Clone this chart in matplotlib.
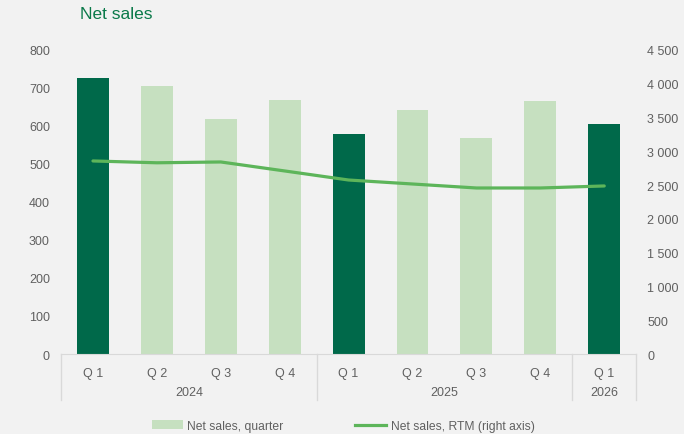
import numpy as np
import matplotlib.pyplot as plt
from matplotlib.patches import Patch
from matplotlib.lines import Line2D
from matplotlib.ticker import FuncFormatter

plt.rcParams['font.family'] = ['Liberation Sans', 'DejaVu Sans']

# Quarterly net sales (left axis) and rolling twelve months (right axis)
quarters = ["Q 1", "Q 2", "Q 3", "Q 4", "Q 1", "Q 2", "Q 3", "Q 4", "Q 1"]
years = ["2024", "2025", "2026"]
year_spans = [(0, 3), (4, 7), (8, 8)]
net_sales_q = [726, 705, 618, 668, 579, 642, 568, 666, 605]
net_sales_rtm = [2857, 2830, 2842, 2709, 2575, 2516, 2457, 2457, 2487]

dark_green = "#00694A"
light_green = "#C6E0C0"
line_green = "#5DB55A"
bg = "#F2F2F2"
txt = "#606060"
sep = "#D9D9D9"

fig = plt.figure(figsize=(6.84, 4.35), dpi=100, facecolor=bg)
ax = fig.add_axes([0.0892, 0.1839, 0.8409, 0.699])
ax.set_facecolor(bg)
ax2 = ax.twinx()

x = np.arange(len(quarters))
colors = [dark_green if q == "Q 1" else light_green for q in quarters]
ax.bar(x, net_sales_q, width=0.5, color=colors, zorder=2)
ax2.plot(x, net_sales_rtm, color=line_green, lw=2.3, solid_capstyle="round", zorder=3)

ax.set_xlim(-0.5, len(quarters) - 0.5)
ax.set_ylim(0, 800)
ax.set_yticks(range(0, 801, 100))
ax2.set_ylim(0, 4500)
ax2.set_yticks(range(0, 4501, 500))
ax2.yaxis.set_major_formatter(FuncFormatter(lambda v, p: f"{int(v):,}".replace(",", " ")))

for a in (ax, ax2):
    for s in a.spines.values():
        s.set_visible(False)
    a.tick_params(axis="y", length=0, labelsize=9, labelcolor=txt, pad=8)
for lbl in ax2.get_yticklabels():
    lbl.set_horizontalalignment("left")
ax.spines["bottom"].set_visible(True)
ax.spines["bottom"].set_color(sep)

ax.set_xticks(x)
ax.set_xticklabels(quarters)
ax.tick_params(axis="x", length=0, labelsize=9, labelcolor=txt, pad=9)

# year row and category separators under the axis
for yr, (a0, a1) in zip(years, year_spans):
    ax.text((a0 + a1) / 2, -0.125, yr, transform=ax.get_xaxis_transform(),
            ha="center", va="center", fontsize=9, color=txt)
for xs in [-0.5, 3.5, 7.5, 8.5]:
    ax.plot([xs, xs], [0, -0.151], transform=ax.get_xaxis_transform(),
            color=sep, lw=1, clip_on=False)

fig.text(0.117, 0.966, "Net sales", fontsize=12.5, color="#0B7A4A", va="center")

handles = [Patch(facecolor=light_green, edgecolor="none"),
           Line2D([0], [0], color=line_green, lw=2.3)]
fig.legend(handles, ["Net sales, quarter", "Net sales, RTM (right axis)"],
           loc="center", bbox_to_anchor=(0.5015, 0.019), ncol=2, frameon=False,
           fontsize=8.7, labelcolor=txt, columnspacing=5.9, handlelength=2.6,
           handletextpad=0.35)

fig.savefig("out.png", dpi=100, facecolor=bg)
